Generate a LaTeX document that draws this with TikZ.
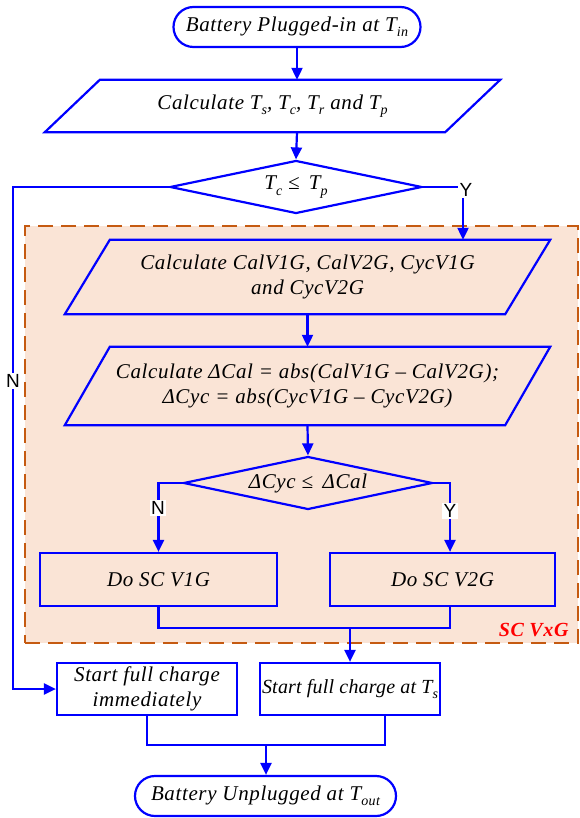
\documentclass[tikz,border=0pt]{standalone}
\usepackage{fontspec}
\setmainfont{Liberation Serif}[LetterSpace=3]
\newfontfamily\arialfont{Liberation Sans}
\newfontfamily\tightserif{Liberation Serif}[LetterSpace=1]
\usetikzlibrary{arrows.meta,shapes.geometric,shapes.misc,calc}
\newcommand\sub[1]{\raisebox{-0.25em}{\fontsize{14}{14}\selectfont #1}}
\definecolor{orng}{RGB}{197,90,17}
\definecolor{peach}{RGB}{250,228,214}
\begin{document}
\begin{tikzpicture}[x=1pt,y=-1pt,
  line/.style={blue, line width=2.2pt},
  arr/.style={line, -{Triangle[length=12pt,width=11pt]}},
  tfont/.style={font=\itshape\fontsize{21}{25}\selectfont},
  box/.style={draw=blue, line width=2.2pt, rectangle, inner sep=2pt, tfont, align=center},
  term/.style={box, rounded rectangle, minimum height=40pt},
  dec/.style={box, diamond, inner sep=0pt, aspect=4.7},
  para/.style={inner sep=0pt, tfont, align=center},
  lab/.style={fill=white, font=\arialfont\fontsize{19}{19}\selectfont, inner sep=1.5pt}
]
\useasboundingbox (0,0) rectangle (580,818);

% group background
\node[draw=orng, fill=peach, line width=2pt, dash pattern=on 15pt off 8pt,
      minimum width=553pt, minimum height=417pt, inner sep=0pt] (grp) at (301.5,434.5) {};
\node[font=\bfseries\itshape\fontsize{20}{20}\selectfont, text=red, anchor=east] (grplab) at (572,630) {SC VxG};

% nodes
\node[term, minimum width=251pt] (start) at (297,27) {Battery Plugged-in at T\sub{in}};

\node[para, minimum width=455pt, minimum height=52pt] (p1) at (272.5,106) {Calculate T\sub{s}, T\sub{c}, T\sub{r} and T\sub{p}};
\draw[line] ($(p1.north west)+(55,0)$) -- (p1.north east) -- ($(p1.south east)+(-55,0)$) -- (p1.south west) -- cycle;

\node[dec, minimum width=252pt, minimum height=53pt] (d1) at (296,187) {T\sub{c} ≤\, T\sub{p}};

\node[para, minimum width=485pt, minimum height=74pt] (p2) at (307.5,277) {Calculate CalV1G, CalV2G, CycV1G\\and CycV2G};
\draw[line] ($(p2.north west)+(45,0)$) -- (p2.north east) -- ($(p2.south east)+(-45,0)$) -- (p2.south west) -- cycle;

\node[para, minimum width=485pt, minimum height=78pt] (p3) at (307.5,386) {Calculate ΔCal = abs(CalV1G – CalV2G);\\ΔCyc = abs(CycV1G – CycV2G)};
\draw[line] ($(p3.north west)+(45,0)$) -- (p3.north east) -- ($(p3.south east)+(-45,0)$) -- (p3.south west) -- cycle;

\node[dec, minimum width=249pt, minimum height=53pt] (d2) at (308,483) {ΔCyc ≤\, ΔCal};

\node[box, minimum width=237pt, minimum height=53pt] (b1) at (158.5,579.5) {Do SC V1G};
\node[box, minimum width=225pt, minimum height=53pt] (b2) at (442.5,579.5) {Do SC V2G};

\node[box, minimum width=180pt, minimum height=52pt, inner sep=0pt] (c1) at (147,689) {Start full charge\\immediately};
\node[box, minimum width=180pt, minimum height=52pt, inner sep=0pt, font=\tightserif\itshape\fontsize{20}{24}\selectfont] (c2) at (350,689) {Start full charge at T\sub{s}};

\node[term, minimum width=265pt] (end) at (265.5,796) {Battery Unplugged at T\sub{out}};

% connectors
\draw[arr] (start.south) -- (start.south |- p1.north);
\draw[arr] (start.south |- p1.south) -- (d1.north);

\coordinate (ycor) at (463,187);
\draw[arr] (d1.east) -- (ycor) -- (ycor |- p2.north);
\node[lab] (ylab1) at (466,190) {Y};

\coordinate (ncor) at (13,187);
\draw[arr] (d1.west) -- (ncor) |- (c1.west);
\node[lab] (nlab1) at (13,381) {N};

\draw[arr] (p2.south) -- (p2.south |- p3.north);
\draw[arr] (p3.south) -- (d2.north);

\draw[arr] (d2.west) -| (b1.north);
\node[lab] (nlab2) at (158,508) {N};
\coordinate (b2in) at ($(b2.north)+(7.5,0)$);
\draw[arr] (d2.east) -| (b2in);
\node[lab] (ylab2) at (450,511) {Y};

\coordinate (m1) at (350,628);
\draw[line] (b1.south) |- (m1);
\draw[line] ($(b2.south)+(7.5,0)$) |- (m1);
\draw[arr] (m1) -- (c2.north);

\coordinate (m2) at (266,745);
\draw[line] (c1.south) |- (m2);
\draw[line] ($(c2.south)+(35,0)$) |- (m2);
\draw[arr] (m2) -- (m2 |- end.north);
\end{tikzpicture}
\end{document}
